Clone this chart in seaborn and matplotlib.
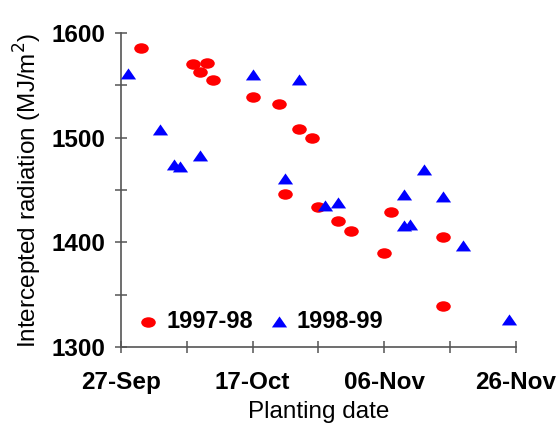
import pandas as pd
import numpy as np
import matplotlib
matplotlib.use("Agg")
import matplotlib.pyplot as plt
import matplotlib.dates as mdates
from matplotlib.path import Path
from matplotlib.transforms import Affine2D
import seaborn as sns

# 1997-98 season (red circles), planting dates put on a common year
dates_9798 = ["1997-09-30", "1997-10-08", "1997-10-10", "1997-10-09", "1997-10-11",
              "1997-10-17", "1997-10-21", "1997-10-24", "1997-10-26", "1997-10-22",
              "1997-10-27", "1997-10-30", "1997-11-01", "1997-11-06", "1997-11-07",
              "1997-11-15", "1997-11-15"]
rad_9798 = [1586, 1570, 1571, 1563, 1555,
            1539, 1532, 1508, 1500, 1446,
            1434, 1420, 1411, 1390, 1429,
            1405, 1339]

# 1998-99 season (blue triangles)
dates_9899 = ["1997-09-28", "1997-10-03", "1997-10-05", "1997-10-06", "1997-10-09",
              "1997-10-17", "1997-10-24", "1997-10-22", "1997-10-28", "1997-10-30",
              "1997-11-09", "1997-11-12", "1997-11-09", "1997-11-10", "1997-11-15",
              "1997-11-18", "1997-11-25"]
rad_9899 = [1561, 1507, 1474, 1472, 1483,
            1560, 1555, 1461, 1435, 1438,
            1445, 1469, 1416, 1417, 1443,
            1397, 1326]

xticks = ["1997-09-27", "1997-10-17", "1997-11-06", "1997-11-26"]
yticks = [1300, 1400, 1500, 1600]

df1 = pd.DataFrame({"date": pd.to_datetime(dates_9798), "rad": rad_9798})
df2 = pd.DataFrame({"date": pd.to_datetime(dates_9899), "rad": rad_9899})

sns.set_style("ticks")
plt.rcParams["font.family"] = ["Liberation Sans", "DejaVu Sans"]
plt.rcParams["text.color"] = "black"
plt.rcParams["axes.labelcolor"] = "black"
plt.rcParams["xtick.labelcolor"] = "black"
plt.rcParams["ytick.labelcolor"] = "black"

# slightly flattened marker shapes like the original
ellipse = Affine2D().scale(1.0, 0.72).transform_path(Path.unit_circle())
tri = Path([(0, 0.8), (-1, -0.65), (1, -0.65), (0, 0.8)],
           [Path.MOVETO, Path.LINETO, Path.LINETO, Path.CLOSEPOLY])

fig = plt.figure(figsize=(5.6, 4.29), dpi=100)
ax = fig.add_axes([0.216, 0.191, 0.705, 0.732])

sns.scatterplot(data=df1, x="date", y="rad", marker=ellipse, color="#ff0000",
                s=110, linewidth=0, label="1997-98", ax=ax, clip_on=False, zorder=3)
sns.scatterplot(data=df2, x="date", y="rad", marker=tri, color="#0000ff",
                s=120, linewidth=0, label="1998-99", ax=ax, clip_on=False, zorder=3)

ax.set_xlim(pd.Timestamp(xticks[0]), pd.Timestamp(xticks[-1]))
ax.set_ylim(yticks[0], yticks[-1])
ax.set_xticks(pd.to_datetime(xticks))
ax.set_xticks(pd.date_range(xticks[0], xticks[-1], freq="10D"), minor=True)
ax.xaxis.set_major_formatter(mdates.DateFormatter("%d-%b"))
ax.set_yticks(yticks)
ax.set_yticks(np.arange(1300, 1601, 50), minor=True)

for s in ["top", "right"]:
    ax.spines[s].set_visible(False)
for s in ["left", "bottom"]:
    ax.spines[s].set_color("#555555")
    ax.spines[s].set_linewidth(1.2)

ax.tick_params(which="both", direction="inout", length=9, width=1.1, color="#555555")
ax.tick_params(axis="x", labelsize=17.5, pad=13, labelcolor="black")
ax.tick_params(axis="y", labelsize=17.5, pad=7, labelcolor="black")
for lab in ax.get_xticklabels() + ax.get_yticklabels():
    lab.set_fontweight("bold")

ax.set_xlabel("Planting date", fontsize=17.5, labelpad=5, color="black")
ax.set_ylabel("Intercepted radiation (MJ/m$^2$)", fontsize=17.5, labelpad=5, color="black")

leg = ax.legend(loc="center left", bbox_to_anchor=(-0.02, 0.08), ncol=2, frameon=False,
                handletextpad=0.15, columnspacing=0.5, handlelength=1.2,
                prop={"size": 17, "weight": "bold"})
for t in leg.get_texts():
    t.set_color("black")

fig.savefig("out.png", dpi=100)
